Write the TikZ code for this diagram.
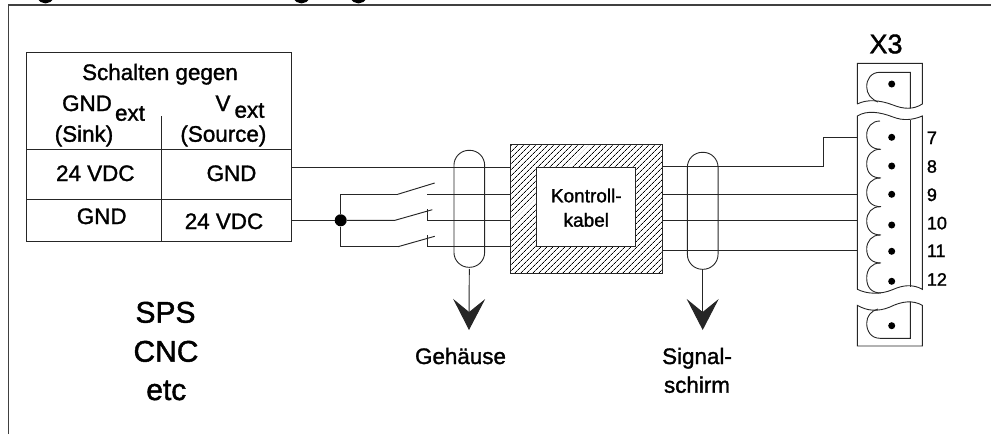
\documentclass[tikz,border=0pt]{standalone}
\usepackage{fontspec}
\setmainfont{Liberation Sans}[FakeBold=1.4]
\usetikzlibrary{arrows.meta,patterns.meta}
\tikzset{
  wire/.style    = {line width=0.95pt, black!85},
  thinline/.style = {line width=0.9pt, black!85},
  frameline/.style = {line width=1.5pt, black!75},
  label/.style   = {anchor=base, inner sep=0pt, font=\fontsize{22.4pt}{24pt}\selectfont},
  biglabel/.style = {label, font=\fontsize{30pt}{32pt}\selectfont},
  boxlabel/.style = {label, font=\fontsize{19pt}{21pt}\selectfont},
  pinlabel/.style = {anchor=base west, inner sep=0pt, font=\fontsize{18pt}{20pt}\selectfont},
  table/.style   = {shape=rectangle, draw, thinline, outer sep=0pt,
                    minimum width=265pt, minimum height=189pt},
  gland/.style   = {shape=rectangle, draw, thinline, rounded corners=15pt, outer sep=0pt,
                    minimum width=30.7pt, minimum height=117pt},
  hatched/.style = {shape=rectangle, draw, thinline, outer sep=0pt,
                    minimum width=152pt, minimum height=129.5pt,
                    pattern={Lines[angle=45,distance=4pt,line width=0.7pt]}},
  core/.style    = {shape=rectangle, draw, thinline, fill=white, outer sep=0pt,
                    minimum width=99pt, minimum height=79.5pt},
  dot/.style     = {circle, fill=black, inner sep=0pt, minimum size=7pt},
  junction/.style = {circle, fill=black, inner sep=0pt, minimum size=12pt},
  earth/.style   = {wire, -{Stealth[length=31pt,width=32pt,inset=13pt]}}
}

\begin{document}
\begin{tikzpicture}[x=1pt,y=-1pt]
  \useasboundingbox (0,0) rectangle (991,434);

  % frame and what is left of the cut off heading
  \draw[frameline] (8.5,434) -- (8.5,5) -- (991,5);
  \begin{scope}
    \clip (0,0) rectangle (991,4);
    \foreach \gx in {45.5,301.5,358.5}
      \draw[line width=3pt] (\gx-6.5,-3) .. controls (\gx-5,3.5) and (\gx+5,3.5) .. (\gx+6.5,-3);
  \end{scope}

  % table
  \node[table] (tabelle) at (158.5,146.5) {};
  \draw[thinline] (tabelle.west |- 0,149.7) -- (tabelle.east |- 0,149.7);
  \draw[thinline] (tabelle.west |- 0,199) -- (tabelle.east |- 0,199);
  \draw[thinline] (161.3,116) -- (161.3,241);

  \node[label] (gegen)  at (160,80) {Schalten gegen};
  \node[label] (gndh)   at (87,111) {GND};
  \node[label] (gndsub) at (130,120.7) {ext};
  \node[label] (vh)     at (223,111) {V};
  \node[label] (vsub)   at (249.5,117.7) {ext};
  \node[label] (sink)   at (84,141.7) {(Sink)};
  \node[label] (source) at (223.4,141.7) {(Source)};
  \node[label] (ssink)  at (95.3,181) {24 VDC};
  \node[label] (gsink)  at (231.5,181) {GND};
  \node[label] (gsrc)   at (101.7,224) {GND};
  \node[label] (ssrc)   at (224,229) {24 VDC};

  \node[biglabel] (sps) at (165.5,322.7) {SPS};
  \node[biglabel] (cnc) at (166,361.7) {CNC};
  \node[biglabel] (etc) at (166.3,400) {etc};

  % cable
  \node[hatched] (kabel) at (586.5,209) {};
  \node[core] (kern) at (586.2,207) {};
  \node[boxlabel] (kont) at (586.3,202.3) {Kontroll-};
  \node[boxlabel] (kab)  at (586.3,226.7) {kabel};

  % wires left
  \node[junction] (knoten) at (340.7,220.3) {};
  \coordinate (sw1a) at (397.7,194.3);
  \coordinate (sw1b) at (434.7,183);
  \coordinate (sw2a) at (395,220.3);
  \coordinate (sw2b) at (432.3,209.7);
  \coordinate (sw3a) at (398,246.7);
  \coordinate (sw3b) at (434.7,236.3);
  \draw[wire] (tabelle.east |- 0,167) -- (kabel.west |- 0,167);
  \draw[wire] (tabelle.east |- knoten) -- (knoten);
  \draw[wire] (sw1a) -| (knoten) |- (sw3a);
  \draw[wire] (sw1a) -- (sw1b);
  \draw[wire] (knoten) -- (sw2a) -- (sw2b);
  \draw[wire] (sw3a) -- (sw3b);
  \draw[wire] (427,194.3) -- (kabel.west |- 0,194.3);
  \draw[wire] (427,209) -- (427,220.3) -- (kabel.west |- 0,220.3);
  \draw[wire] (427,235) -- (427,246.7) -- (kabel.west |- 0,246.7);

  % shields
  \node[gland] (gehaeuse) at (469.3,208.8) {};
  \node[gland] (schirm)   at (702.7,210.8) {};
  \coordinate (gndgeh) at (469,330);
  \coordinate (gndsch) at (702.7,330);
  \draw[earth] (gehaeuse.south) ++(0,1.5) -- (gndgeh);
  \draw[earth] (schirm.south) -- (gndsch);
  \node[label] (geh)  at (460.5,364) {Gehäuse};
  \node[label] (sig)  at (697,364) {Signal-};
  \node[label] (schi) at (697,392.7) {schirm};

  % connector
  \node[font=\fontsize{27pt}{29pt}\selectfont, anchor=base, inner sep=0pt] (xdrei) at (886,53.3) {X3};

  \draw[thinline] (857.3,104) -- (857.3,63.3) -- (922.3,63.3) -- (922.3,104)
     .. controls (913,110) and (903,109) .. (893,105)
     .. controls (880,100) and (867,99) .. (857.3,104);
  \draw[thinline] (910.3,108.3) -- (910.3,72.3) -- (880,72.3)
     .. controls (871,72.3) and (866.7,79) .. (866.7,86.7)
     .. controls (866.7,94) and (871,99) .. (878,102);
  \node[dot] (topdot) at (891.7,84) {};

  \draw[thinline] (857.3,289.3) -- (857.3,116)
     .. controls (867,110) and (880,112) .. (893,117)
     .. controls (903,121) and (913,120) .. (922.3,116) -- (922.3,289.3)
     .. controls (913,284) and (903,285) .. (893,289.5)
     .. controls (880,295) and (867,294) .. (857.3,289.3);
  \draw[thinline] (910.3,120) -- (910.3,286.7);

  % scallops and pins
  \foreach \ya/\yb/\yd/\yt/\pin in {121/149.3/137.3/144/7,149.3/178/166/172.7/8,178/206.7/194.3/201/9,
      206.7/235/225/229.3/10,235/263/251.3/257/11,263/293/281.3/285.7/12}{
    \draw[thinline] (880,\ya) .. controls (872,\ya) and (866.7,\ya+6) .. (866.7,\ya/2+\yb/2)
       .. controls (866.7,\yb-5) and (872,\yb) .. (881,\yb);
    \node[dot] (pin\pin) at (891.7,\yd) {};
    \node[pinlabel] (num\pin) at (926.7,\yt) {\pin};
  }

  \draw[thinline] (857.3,305.3) .. controls (867,311) and (878,312) .. (890,307)
     .. controls (902,301) and (913,300) .. (922.3,305.3) -- (922.3,346) -- (857.3,346) -- cycle;
  \draw[thinline] (910.3,301.7) -- (910.3,338.3) -- (880,338.3)
     .. controls (871,338.3) and (866.7,331) .. (866.7,323.3)
     .. controls (866.7,316) and (871,311) .. (878,309);
  \node[dot] (botdot) at (891.7,325.7) {};

  % wires right
  \coordinate (knick) at (823.3,166.7);
  \draw[wire] (kabel.east |- knick) -- (knick) |- (857.3,137);
  \draw[wire] (kabel.east |- 0,194) -- (857.3,194);
  \draw[wire] (kabel.east |- 0,220) -- (857.3,220);
  \draw[wire] (kabel.east |- 0,250) -- (857.3,250);
\end{tikzpicture}
\end{document}
